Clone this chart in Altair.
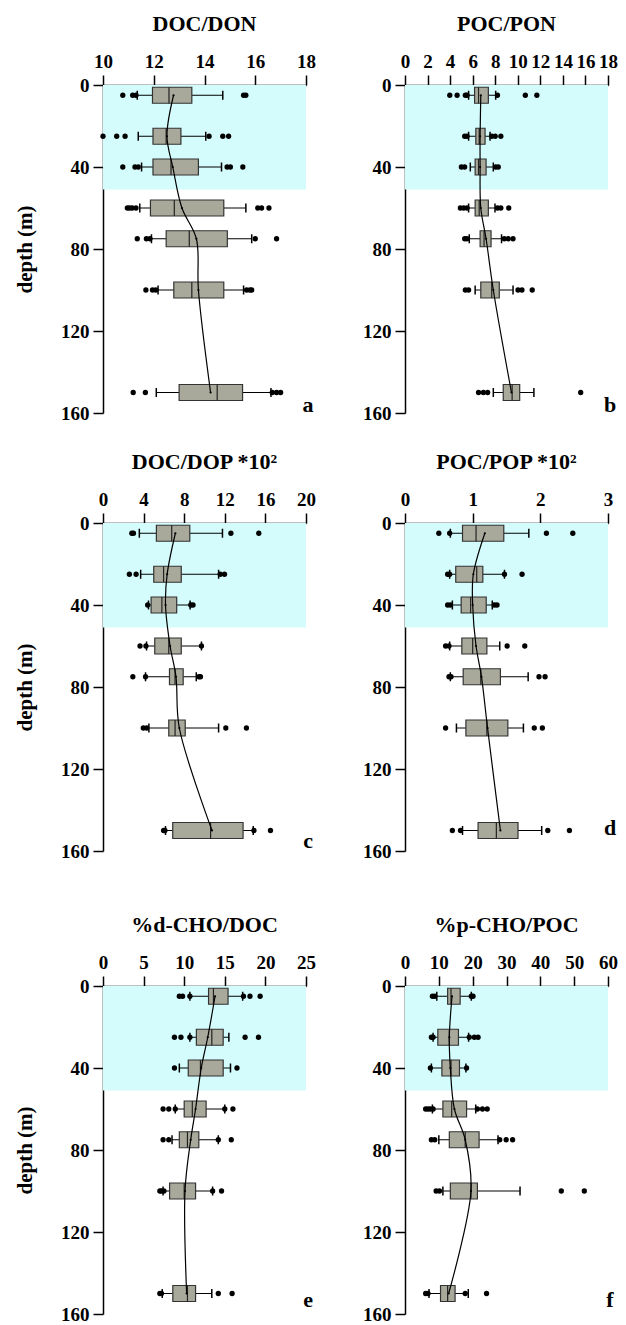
import altair as alt
import pandas as pd

DEPTHS = [5, 25, 40, 60, 75, 100, 150]
MIXED_LAYER = [0, 51]

# a: DOC/DON
A_WLO = [11.35, 11.39, 11.52, 11.45, 11.91, 12.17, 12.1]
A_Q1 = [11.95, 11.97, 11.97, 11.87, 12.49, 12.79, 13.0]
A_MED = [12.6, 12.49, 12.68, 12.81, 13.4, 13.5, 14.5]
A_Q3 = [13.5, 13.07, 13.76, 14.76, 14.9, 14.76, 15.5]
A_WHI = [14.72, 14.05, 14.67, 15.63, 15.86, 15.54, 16.62]
A_MEAN = [12.78, 12.52, 12.75, 13.11, 13.68, 13.76, 14.24]
A_OUT = [[10.78, 11.17, 11.3, 15.54, 15.63],
         [10.0, 10.54, 10.87, 14.18, 14.72, 14.95],
         [10.78, 11.26, 11.39, 14.89, 15.02, 15.51],
         [10.96, 11.05, 11.15, 11.3, 16.1, 16.25, 16.54],
         [11.35, 11.71, 11.85, 16.0, 16.84],
         [11.69, 11.95, 12.08, 15.66, 15.79, 15.86],
         [11.19, 11.67, 16.67, 16.84, 17.0]]

# b: POC/PON
B_WLO = [5.64, 5.64, 5.79, 5.64, 5.7, 6.22, 7.83]
B_Q1 = [6.17, 6.28, 6.22, 6.22, 6.66, 6.72, 8.71]
B_MED = [6.52, 6.58, 6.52, 6.58, 7.01, 7.69, 9.5]
B_Q3 = [7.39, 7.1, 7.19, 7.39, 7.63, 8.36, 10.17]
B_WHI = [8.04, 7.54, 7.83, 7.98, 8.56, 9.58, 11.43]
B_MEAN = [6.72, 6.66, 6.66, 6.72, 7.19, 7.83, 9.44]
B_OUT = [[3.97, 4.62, 5.35, 5.5, 8.2, 10.67, 11.69],
         [5.29, 5.5, 7.69, 8.0, 8.5],
         [5.0, 5.29, 8.04, 8.27],
         [4.91, 5.2, 5.5, 8.2, 8.5, 9.2],
         [5.29, 5.5, 8.8, 9.15, 9.58],
         [5.35, 5.64, 10.02, 10.37, 11.28],
         [6.52, 6.95, 7.33, 15.58]]

# c: DOC/DOP *10^2
C_WLO = [3.58, 3.71, 4.48, 4.29, 4.19, 4.52, 6.16]
C_Q1 = [5.26, 5.0, 4.74, 5.1, 6.55, 6.48, 6.87]
C_MED = [6.77, 5.97, 5.8, 6.48, 7.1, 7.1, 10.6]
C_Q3 = [8.55, 7.71, 7.26, 7.71, 7.9, 8.1, 13.8]
C_WHI = [11.77, 11.39, 8.58, 9.7, 9.19, 11.39, 14.8]
C_MEAN = [7.13, 6.32, 6.16, 6.61, 7.19, 7.52, 10.74]
C_OUT = [[2.84, 3.0, 12.6, 15.35],
         [2.6, 3.26, 11.55, 11.97],
         [4.4, 8.65, 8.87],
         [3.65, 4.23, 9.7],
         [2.94, 4.19, 9.45, 9.6],
         [3.97, 4.3, 12.1, 14.13],
         [5.97, 6.1, 14.87, 16.5]]

# d: POC/POP *10^2
D_WLO = [0.67, 0.66, 0.7, 0.66, 0.67, 0.76, 0.85]
D_Q1 = [0.85, 0.75, 0.83, 0.84, 0.86, 0.9, 1.08]
D_MED = [1.05, 1.06, 0.97, 1.0, 1.12, 1.21, 1.35]
D_Q3 = [1.46, 1.15, 1.2, 1.21, 1.41, 1.52, 1.67]
D_WHI = [1.83, 1.47, 1.29, 1.4, 1.82, 1.75, 2.02]
D_MEAN = [1.18, 1.01, 1.0, 1.05, 1.13, 1.22, 1.41]
D_OUT = [[0.5, 0.66, 2.09, 2.48],
         [0.63, 0.66, 1.47, 1.73],
         [0.63, 0.67, 1.32, 1.36],
         [0.6, 0.65, 1.51, 1.77],
         [0.65, 0.68, 1.98, 2.07],
         [0.6, 1.91, 2.03],
         [0.7, 0.82, 2.11, 2.43]]

# e: %d-CHO/DOC
E_WLO = [10.7, 10.7, 9.4, 8.9, 8.5, 7.4, 7.3]
E_Q1 = [13.0, 11.5, 10.5, 10.0, 9.4, 8.2, 8.6]
E_MED = [13.6, 13.4, 12.0, 11.0, 10.4, 10.0, 10.4]
E_Q3 = [15.4, 14.8, 14.8, 12.7, 11.8, 11.4, 11.4]
E_WHI = [17.2, 15.5, 15.7, 15.0, 14.2, 13.5, 13.4]
E_MEAN = [13.8, 12.9, 12.1, 11.4, 10.8, 10.1, 10.3]
E_OUT = [[9.4, 9.8, 10.7, 17.3, 18.1, 19.35],
         [8.8, 9.6, 10.7, 17.5, 19.15],
         [8.8, 16.5],
         [7.4, 8.1, 8.9, 15.0, 16.0],
         [7.4, 8.1, 14.2, 15.8],
         [7.0, 7.2, 7.5, 13.5, 14.6],
         [7.0, 7.2, 14.2, 15.9]]

# f: %p-CHO/POC
F_WLO = [9.4, 8.3, 7.8, 8.1, 10.0, 11.2, 7.1]
F_Q1 = [12.6, 9.7, 10.9, 11.2, 13.1, 13.4, 10.5]
F_MED = [13.6, 13.1, 13.6, 13.8, 17.8, 19.5, 12.6]
F_Q3 = [16.3, 15.8, 16.1, 18.2, 21.9, 21.4, 14.8]
F_WHI = [19.6, 18.8, 18.0, 20.9, 27.5, 34.0, 18.7]
F_MEAN = [13.9, 13.1, 13.4, 14.6, 17.8, 19.5, 12.9]
F_OUT = [[8.1, 8.8, 19.6, 20.1],
         [7.8, 8.3, 19.0, 20.5, 21.6],
         [7.5, 18.2],
         [6.1, 6.8, 7.5, 8.3, 21.4, 22.9, 24.3],
         [7.8, 8.8, 28.0, 29.9, 31.8],
         [9.2, 10.2, 46.2, 53.0],
         [6.1, 6.8, 17.8, 24.1]]

TITLES = ["DOC/DON", "POC/PON", "DOC/DOP *10\u00b2", "POC/POP *10\u00b2",
          "%d-CHO/DOC", "%p-CHO/POC"]
DOMAINS = [[10, 18], [0, 18], [0, 20], [0, 3], [0, 25], [0, 60]]
XTICKS = [[10, 12, 14, 16, 18], [0, 2, 4, 6, 8, 10, 12, 14, 16, 18],
          [0, 4, 8, 12, 16, 20], [0, 1, 2, 3], [0, 5, 10, 15, 20, 25],
          [0, 10, 20, 30, 40, 50, 60]]
YTICKS = [0, 40, 80, 120, 160]
LETTERS = ["a", "b", "c", "d", "e", "f"]
LETTER_DEPTH = [156, 156, 155, 149, 153, 153]

FONT = "Liberation Serif"
W, H = 203, 328
BOX_FILL = "#a9a99b"
SHADE = "#d4fcfc"
HALF_BOX = 3.9
HALF_CAP = 2.2


def panel(i, wlo, q1, med, q3, whi, mean, out, left):
    box = pd.DataFrame({"depth": DEPTHS, "wlo": wlo, "q1": q1, "med": med,
                        "q3": q3, "whi": whi, "mean": mean})
    outs = pd.DataFrame([{"depth": d, "v": v} for d, vs in zip(DEPTHS, out) for v in vs])
    shade = pd.DataFrame({"top": [MIXED_LAYER[0]], "bot": [MIXED_LAYER[1]]})
    lab = pd.DataFrame({"d": [LETTER_DEPTH[i]], "t": [LETTERS[i]]})

    xs = alt.Scale(domain=DOMAINS[i], nice=False, zero=False)
    ys = alt.Scale(domain=[0, 160], reverse=True, nice=False)
    xaxis = alt.Axis(orient="top", values=XTICKS[i], labelOverlap=False,
                     labelFlush=False, format="d", title="")
    if left:
        yaxis = alt.Axis(values=YTICKS, format="d", title="depth (m)",
                         titleFont=FONT, titleFontSize=21, titleFontWeight="bold",
                         titleColor="black", titlePadding=25)
    else:
        yaxis = alt.Axis(values=YTICKS, format="d", title="")

    def X(f):
        return alt.X(f, type="quantitative", scale=xs, axis=xaxis)

    def Y(f):
        return alt.Y(f, type="quantitative", scale=ys, axis=yaxis)

    base = alt.Chart(box).transform_calculate(
        y0=f"datum.depth - {HALF_BOX}", y1=f"datum.depth + {HALF_BOX}",
        c0=f"datum.depth - {HALF_CAP}", c1=f"datum.depth + {HALF_CAP}")

    shade_l = alt.Chart(shade).mark_rect(color=SHADE).encode(
        x=alt.value(0), x2=alt.value(W), y=Y("top"), y2="bot:Q")
    wl = base.mark_rule(color="black", strokeWidth=1).encode(
        x=X("wlo"), x2="q1:Q", y=Y("depth"))
    wh = base.mark_rule(color="black", strokeWidth=1).encode(
        x=X("q3"), x2="whi:Q", y=Y("depth"))
    cl = base.mark_rule(color="black", strokeWidth=1.5).encode(
        x=X("wlo"), y=Y("c0"), y2="c1:Q")
    ch = base.mark_rule(color="black", strokeWidth=1.5).encode(
        x=X("whi"), y=Y("c0"), y2="c1:Q")
    boxes = base.mark_rect(fill=BOX_FILL, stroke="#333333", strokeWidth=1.2).encode(
        x=X("q1"), x2="q3:Q", y=Y("y0"), y2="y1:Q")
    meds = base.mark_rule(color="#222222", strokeWidth=1.2).encode(
        x=X("med"), y=Y("y0"), y2="y1:Q")
    outl = alt.Chart(outs).mark_circle(color="black", opacity=1, size=28).encode(
        x=X("v"), y=Y("depth"))
    line = base.mark_line(color="black", strokeWidth=1.2, interpolate="catmull-rom").encode(
        x=X("mean"), y=Y("depth"), order=alt.Order("depth:Q"))
    mdots = base.mark_circle(color="black", opacity=1, size=5).encode(
        x=X("mean"), y=Y("depth"))
    letter = alt.Chart(lab).mark_text(font=FONT, fontSize=22, fontWeight="bold",
                                      color="black", align="center", baseline="middle").encode(
        x=alt.value(W + 2), y=Y("d"), text="t:N")

    return alt.layer(shade_l, wl, wh, cl, ch, boxes, meds, outl, line, mdots, letter).properties(
        width=W, height=H,
        title=alt.TitleParams(TITLES[i], font=FONT, fontSize=22, fontWeight="bold",
                              color="black", offset=16))


pa = panel(0, A_WLO, A_Q1, A_MED, A_Q3, A_WHI, A_MEAN, A_OUT, True)
pb = panel(1, B_WLO, B_Q1, B_MED, B_Q3, B_WHI, B_MEAN, B_OUT, False)
pc = panel(2, C_WLO, C_Q1, C_MED, C_Q3, C_WHI, C_MEAN, C_OUT, True)
pd_ = panel(3, D_WLO, D_Q1, D_MED, D_Q3, D_WHI, D_MEAN, D_OUT, False)
pe = panel(4, E_WLO, E_Q1, E_MED, E_Q3, E_WHI, E_MEAN, E_OUT, True)
pf = panel(5, F_WLO, F_Q1, F_MED, F_Q3, F_WHI, F_MEAN, F_OUT, False)

row1 = alt.hconcat(pa, pb, spacing=46)
row2 = alt.hconcat(pc, pd_, spacing=46)
row3 = alt.hconcat(pe, pf, spacing=46)
top = alt.vconcat(row1, row2, spacing=26)
chart = alt.vconcat(top, row3, spacing=51).configure_view(
    stroke="transparent"
).configure_axis(
    domainColor="black", domainWidth=1.5, tickColor="black", tickWidth=1.5,
    tickSize=10, labelFont=FONT, labelFontSize=19, labelFontWeight="bold",
    labelColor="black", labelPadding=4, grid=False
).properties(padding={"left": 6, "top": 4, "right": 0, "bottom": 0}, background="white")

chart.save("out.html", embed_options={"renderer": "svg", "actions": False})
